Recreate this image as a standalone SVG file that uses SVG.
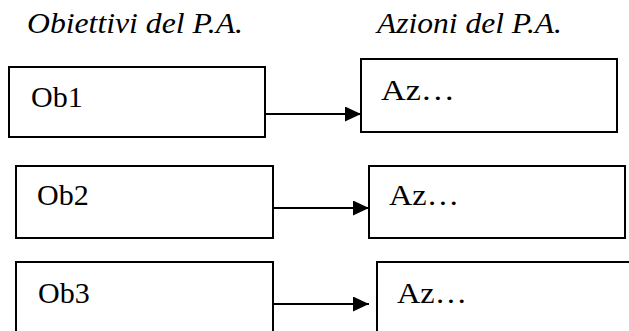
<svg xmlns="http://www.w3.org/2000/svg" width="629" height="331" viewBox="0 0 629 331">
<style>
.box{fill:#fff;stroke:#000;stroke-width:2}
.hdr{font-style:italic;font-size:30px;fill:#000}
.lbl{font-size:30px;fill:#000}
.conn{stroke:#000;stroke-width:2;fill:none}
</style>
<defs>
<marker id="ah" markerUnits="userSpaceOnUse" markerWidth="17" markerHeight="16" refX="16" refY="7.5" orient="auto">
<polygon points="0,0 16,7.5 0,15" fill="#000"/>
</marker>
</defs>
<rect width="629" height="331" fill="#fff"/>
<g font-family="Liberation Serif, Times New Roman, Times, DejaVu Serif, serif">
<text class="hdr" x="27" y="33" textLength="216" lengthAdjust="spacingAndGlyphs">Obiettivi del P.A.</text>
<text class="hdr" x="377" y="33" textLength="185" lengthAdjust="spacingAndGlyphs">Azioni del P.A.</text>
<g id="ob1"><rect class="box" x="9" y="67" width="256" height="70"/><text class="lbl" x="31" y="107">Ob1</text></g>
<g id="az1"><rect class="box" x="361" y="59" width="256" height="73"/><text class="lbl" x="381" y="100" textLength="74" lengthAdjust="spacingAndGlyphs">Az…</text></g>
<g id="ob2"><rect class="box" x="16" y="166" width="257" height="72"/><text class="lbl" x="37" y="205">Ob2</text></g>
<g id="az2"><rect class="box" x="369" y="166" width="256" height="72"/><text class="lbl" x="389" y="205" textLength="70" lengthAdjust="spacingAndGlyphs">Az…</text></g>
<g id="ob3"><rect class="box" x="16" y="262" width="257" height="80"/><text class="lbl" x="38" y="303">Ob3</text></g>
<g id="az3"><rect class="box" x="377" y="262" width="262" height="80"/><text class="lbl" x="397" y="303" textLength="70" lengthAdjust="spacingAndGlyphs">Az…</text></g>
</g>
<g id="connectors">
<line class="conn" x1="265" y1="114" x2="361" y2="114" marker-end="url(#ah)"/>
<line class="conn" x1="273" y1="208" x2="369" y2="208" marker-end="url(#ah)"/>
<line class="conn" x1="273" y1="304" x2="369" y2="304" marker-end="url(#ah)"/>
</g>
</svg>
